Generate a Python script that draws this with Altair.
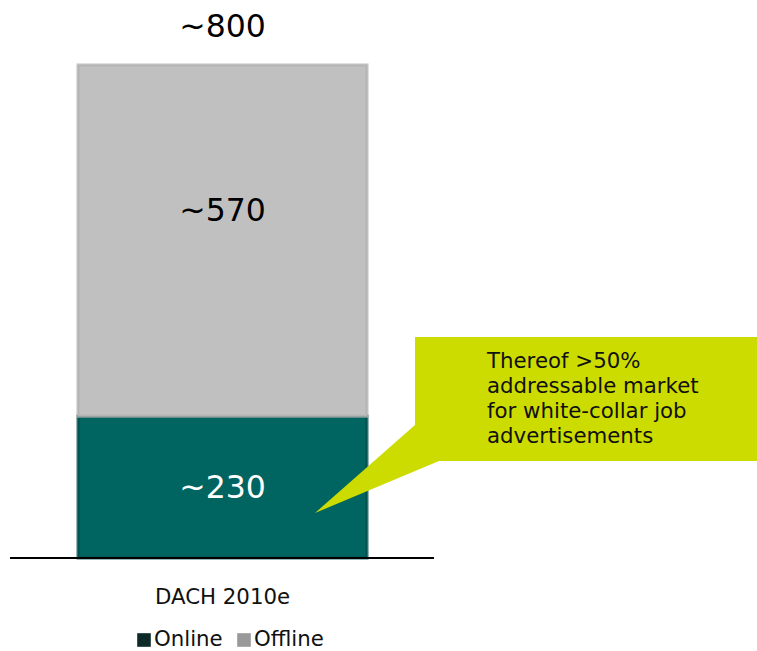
import altair as alt
import pandas as pd

# ---- data ----
category = ["DACH 2010e"]
series = ["Online", "Offline"]
values = [230, 570]
stack_order = [0, 1]
total_value = [800]
callout_lines = ["Thereof >50%", "addressable market", "for white-collar job", "advertisements"]

bar_colors = ["#006461", "#c0c0c0"]
edge_colors = ["#004c4a", "#b0b0b0"]
legend_colors = ["#0d2a28", "#999999"]

df = pd.DataFrame({
    "cat": category * len(series),
    "series": series,
    "value": values,
    "order": stack_order,
})
legend_df = pd.DataFrame({"series": series, "swatch": legend_colors})

FONT = "DejaVu Sans"
BIG = 31.5
SMALL = 21.3

x_enc = alt.X("cat:N", scale=alt.Scale(range=[78, 367], paddingInner=0, paddingOuter=0), axis=None)
y_scale = alt.Scale(domain=[0, 800], range=[558, 65])

bars = alt.Chart(df).mark_bar(strokeWidth=3, strokeOpacity=0.8).encode(
    x=x_enc,
    y=alt.Y("sum(value):Q", stack="zero", scale=y_scale, axis=None),
    fill=alt.Fill("series:N", scale=alt.Scale(domain=series, range=bar_colors), legend=None),
    stroke=alt.Stroke("series:N", scale=alt.Scale(domain=series, range=edge_colors), legend=None),
    order=alt.Order("order:Q"),
)

seg_base = alt.Chart(df).transform_stack(
    stack="value", groupby=["cat"], as_=["v0", "v1"], sort=[alt.SortField("order")]
).transform_calculate(
    mid="(datum.v0 + datum.v1) / 2", label="'~' + datum.value"
)

online_lbl = seg_base.transform_filter(alt.datum.series == "Online").mark_text(
    font=FONT, fontSize=BIG, color="white", baseline="middle", dy=2
).encode(x=x_enc, y=alt.Y("mid:Q", scale=y_scale), text="label:N")

offline_lbl = seg_base.transform_filter(alt.datum.series == "Offline").mark_text(
    font=FONT, fontSize=BIG, color="black", baseline="middle", dy=-29
).encode(x=x_enc, y=alt.Y("mid:Q", scale=y_scale), text="label:N")

total_df = pd.DataFrame({"cat": category, "total": total_value})
total_lbl = alt.Chart(total_df).transform_calculate(label="'~' + datum.total").mark_text(
    font=FONT, fontSize=BIG, color="black", baseline="alphabetic", dy=-28
).encode(x=x_enc, y=alt.Y("total:Q", scale=y_scale), text="label:N")

one = alt.Data(values=[{"k": 1}])

baseline = alt.Chart(one).mark_rule(color="black", strokeWidth=2).encode(
    x=alt.value(10), x2=alt.value(434), y=alt.value(558)
)

cat_lbl = alt.Chart(pd.DataFrame({"cat": category})).mark_text(
    font=FONT, fontSize=SMALL, color="#111111", baseline="alphabetic"
).encode(x=x_enc, y=alt.value(604), text="cat:N")

# ---- legend (drawn by hand) ----
legend_layers = []
for s, sx in zip(series, [144, 244]):
    base = alt.Chart(legend_df).transform_filter(alt.datum.series == s)
    legend_layers.append(
        base.mark_square(size=185, opacity=1, strokeWidth=0).encode(
            x=alt.value(sx), y=alt.value(640), color=alt.Color("swatch:N", scale=None)
        )
    )
    legend_layers.append(
        base.mark_text(font=FONT, fontSize=SMALL, color="#111111", align="left", baseline="alphabetic").encode(
            x=alt.value(sx + 10), y=alt.value(646), text="series:N"
        )
    )

callout_color = "#cddc00"
callout_box = alt.Chart(one).mark_rect(color=callout_color).encode(
    x=alt.value(415), x2=alt.value(757), y=alt.value(337), y2=alt.value(461)
)
callout_ptr = alt.Chart(one).mark_point(
    shape="M0,0 L100,-88 L124,-52 Z", size=4, filled=True, opacity=1,
    color=callout_color, strokeWidth=0
).encode(x=alt.value(315), y=alt.value(513))

callout_text = alt.Chart(one).mark_text(
    font=FONT, fontSize=SMALL, color="#111111", align="left", baseline="alphabetic", lineHeight=25
).encode(x=alt.value(487), y=alt.value(368), text=alt.value(callout_lines))

chart = alt.layer(
    bars, online_lbl, offline_lbl, total_lbl, baseline, cat_lbl,
    *legend_layers,
    callout_box, callout_ptr, callout_text
).properties(
    width=757, height=651, padding=0,
    autosize=alt.AutoSizeParams(type="none"),
).configure_view(stroke=None)

chart.save("out.html", embed_options={"renderer": "svg", "actions": False})
